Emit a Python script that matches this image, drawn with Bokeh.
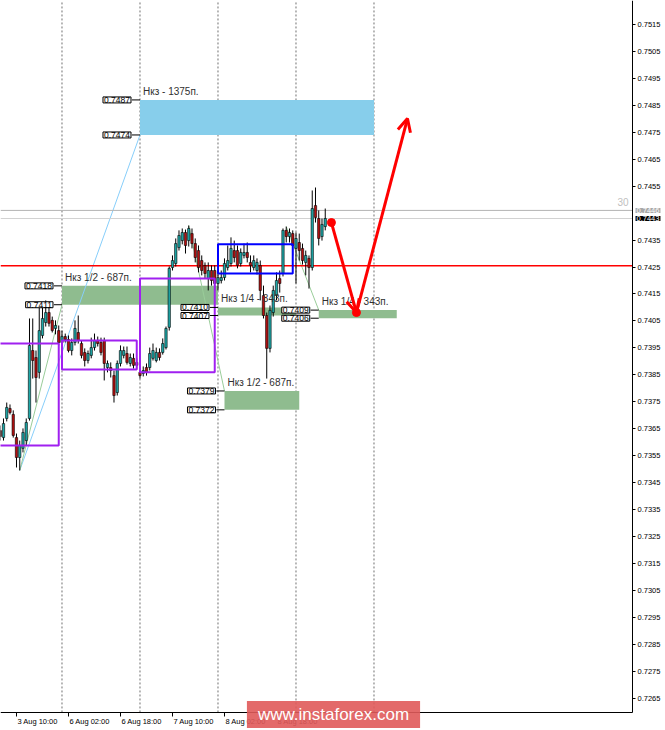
from bokeh.plotting import figure
from bokeh.models import (ColumnDataSource, FixedTicker, Range1d, Label, Arrow,
                          OpenHead, PrintfTickFormatter, LinearAxis)
from bokeh.embed import file_html
from bokeh.resources import INLINE

# ---------------- data ----------------
# bar index = hours from 6 Aug 00:00 (weekend skipped), H1 bars
hours = list(range(-19, 82))
opens = [0.73643, 0.73617, 0.73688, 0.73725, 0.73703, 0.73617, 0.73543, 0.73577, 0.73606, 0.73688,
         0.73940, 0.73914, 0.73859, 0.73996, 0.74044, 0.74081, 0.74052, 0.74022, 0.74014,
         0.73970, 0.73992, 0.73981, 0.73940, 0.73970, 0.74007, 0.73966, 0.73933, 0.73903, 0.73922,
         0.73951, 0.73977, 0.73970, 0.73977, 0.73877, 0.73877, 0.73847, 0.73784, 0.73892, 0.73922,
         0.73929, 0.73892, 0.73911, 0.73896,
         0.73859, 0.73855, 0.73877, 0.73877, 0.73911, 0.73903, 0.73933, 0.73933, 0.73951, 0.74026,
         0.74248, 0.74263, 0.74322, 0.74348, 0.74378, 0.74348, 0.74374, 0.74337, 0.74311, 0.74274,
         0.74256, 0.74207, 0.74237, 0.74237,
         0.74189, 0.74200, 0.74211, 0.74248, 0.74263, 0.74311, 0.74311, 0.74263, 0.74293, 0.74304,
         0.74267, 0.74248, 0.74237, 0.74256, 0.74144, 0.74070, 0.73948, 0.74081, 0.74144, 0.74207,
         0.74226, 0.74386, 0.74363, 0.74374,
         0.74319, 0.74341, 0.74319, 0.74267, 0.74282, 0.74248, 0.74478, 0.74430, 0.74363, 0.74400]
highs = [0.73662, 0.73688, 0.73747, 0.73740, 0.73718, 0.73632, 0.73606, 0.73651, 0.73688, 0.74059,
         0.74059, 0.73940, 0.74100, 0.74100, 0.74126, 0.74107, 0.74066, 0.74052, 0.74033,
         0.74014, 0.74003, 0.73996, 0.73985, 0.74052, 0.74070, 0.73977, 0.73948, 0.73940, 0.73988,
         0.74003, 0.73992, 0.73988, 0.73988, 0.73903, 0.73896, 0.73866, 0.73903, 0.73959, 0.73955,
         0.73955, 0.73929, 0.73929, 0.73911,
         0.73873, 0.73881, 0.73892, 0.73951, 0.73966, 0.73951, 0.73948, 0.73985, 0.74029, 0.74252,
         0.74293, 0.74356, 0.74386, 0.74393, 0.74389, 0.74404, 0.74393, 0.74356, 0.74330, 0.74293,
         0.74267, 0.74267, 0.74256, 0.74256,
         0.74230, 0.74237, 0.74282, 0.74330, 0.74360, 0.74348, 0.74330, 0.74319, 0.74337, 0.74341,
         0.74293, 0.74293, 0.74282, 0.74274, 0.74181, 0.74081, 0.74107, 0.74181, 0.74230, 0.74237,
         0.74393, 0.74400, 0.74393, 0.74386,
         0.74378, 0.74374, 0.74337, 0.74311, 0.74293, 0.74534, 0.74545, 0.74460, 0.74430, 0.74467]
lows = [0.73606, 0.73606, 0.73677, 0.73703, 0.73617, 0.73506, 0.73495, 0.73562, 0.73588, 0.73680,
        0.73836, 0.73747, 0.73836, 0.73985, 0.74029, 0.74029, 0.74007, 0.74000, 0.73959,
        0.73955, 0.73970, 0.73933, 0.73922, 0.73959, 0.73966, 0.73911, 0.73881, 0.73892, 0.73911,
        0.73940, 0.73955, 0.73922, 0.73829, 0.73859, 0.73840, 0.73747, 0.73773, 0.73881, 0.73911,
        0.73888, 0.73881, 0.73873, 0.73873,
        0.73836, 0.73844, 0.73847, 0.73866, 0.73903, 0.73896, 0.73903, 0.73925, 0.73944, 0.74014,
        0.74237, 0.74252, 0.74311, 0.74334, 0.74300, 0.74326, 0.74319, 0.74267, 0.74230, 0.74219,
        0.74207, 0.74163, 0.74181, 0.74163,
        0.74163, 0.74189, 0.74200, 0.74237, 0.74252, 0.74267, 0.74245, 0.74252, 0.74282, 0.74267,
        0.74230, 0.74237, 0.74222, 0.74126, 0.74059, 0.73836, 0.73933, 0.74066, 0.74126, 0.74155,
        0.74215, 0.74341, 0.74341, 0.74293,
        0.74189, 0.74274, 0.74259, 0.74219, 0.74170, 0.74237, 0.74415, 0.74330, 0.74348, 0.74386]
closes = [0.73621, 0.73669, 0.73729, 0.73710, 0.73625, 0.73543, 0.73588, 0.73636, 0.73673, 0.73959,
          0.73903, 0.73840, 0.74014, 0.74059, 0.74081, 0.74041, 0.74014, 0.74033, 0.73970,
          0.73992, 0.73981, 0.73940, 0.73970, 0.74022, 0.73977, 0.73922, 0.73903, 0.73929, 0.73951,
          0.73977, 0.73966, 0.73933, 0.73892, 0.73892, 0.73866, 0.73773, 0.73892, 0.73940, 0.73940,
          0.73896, 0.73914, 0.73885, 0.73885,
          0.73847, 0.73866, 0.73859, 0.73929, 0.73940, 0.73933, 0.73914, 0.73966, 0.74022, 0.74245,
          0.74274, 0.74337, 0.74367, 0.74378, 0.74330, 0.74393, 0.74337, 0.74285, 0.74248, 0.74237,
          0.74226, 0.74237, 0.74200, 0.74189,
          0.74211, 0.74211, 0.74263, 0.74274, 0.74319, 0.74285, 0.74256, 0.74304, 0.74304, 0.74285,
          0.74256, 0.74274, 0.74267, 0.74163, 0.74070, 0.73948, 0.74089, 0.74163, 0.74200, 0.74189,
          0.74386, 0.74363, 0.74378, 0.74330,
          0.74356, 0.74311, 0.74274, 0.74293, 0.74248, 0.74467, 0.74434, 0.74356, 0.74408, 0.74430]

# x-axis time labels
time_ticks = [-14, 2, 18, 34, 50, 66]
time_labels = ["3 Aug 10:00", "6 Aug 02:00", "6 Aug 18:00",
               "7 Aug 10:00", "8 Aug 02:00", "8 Aug 18:00"]
day_separators = [0, 24, 48, 72, 96]
price_ticks = [0.7265, 0.7275, 0.7285, 0.7295, 0.7305, 0.7315, 0.7325, 0.7335, 0.7345,
               0.7355, 0.7365, 0.7375, 0.7385, 0.7395, 0.7405, 0.7415, 0.7425, 0.7435,
               0.7455, 0.7465, 0.7475, 0.7485, 0.7495, 0.7505, 0.7515]

# target zones
zone_start = [24, 0, 48, 50, 79]
zone_end = [96, 48, 72, 73, 103]
zone_low = [0.7474, 0.7411, 0.7407, 0.7372, 0.7406]
zone_high = [0.7487, 0.7418, 0.7410, 0.7379, 0.7409]
zone_text = ["Нкз - 1375п.", "Нкз 1/2 - 687п.", "Нкз 1/4 - 343п.", "Нкз 1/2 - 687п.", "Нкз 1/4 - 343п."]
zone_color = ["#87CEEB", "#8FBC8F", "#8FBC8F", "#8FBC8F", "#8FBC8F"]

# range boxes
box_left = [-25, 0, 24, 48]
box_right = [-1, 23, 47, 71]
box_low = [0.73588, 0.73870, 0.73859, 0.74226]
box_high = [0.73966, 0.73977, 0.74207, 0.74334]
box_color = ["#A020F0", "#A020F0", "#A020F0", "#0000FF"]

# thin trend lines
tl_x0 = [-13, -13, 39, 69]
tl_y0 = [0.73495, 0.73495, 0.74404, 0.74400]
tl_x1 = [24, 0, 50, 79]
tl_y1 = [0.7474, 0.7411, 0.7379, 0.7409]
tl_color = ["#87CEFA", "#9ACD9A", "#9ACD9A", "#9ACD9A"]

support_level = 0.74255
ask_price = 0.7446
bid_price = 0.7443

# forecast path
path_h = [82.9, 90.6, 106.3]
path_p = [0.74415, 0.74081, 0.74801]

BULL = "#1EA8A8"
BEAR = "#B40F0F"
FONT = "Liberation Sans"

# chart window (data units) and where the axes sit inside it
X_LO, X_HI = -18.92, 185.69
Y_LO, Y_HI = 0.72530, 0.75239
AXIS_X = 175.54      # price scale line
AXIS_Y = 0.72597     # time scale line
LABEL_SHIFT = 6.5    # time labels start at their tick

# ---------------- figure ----------------
p = figure(frame_width=665, frame_height=730,
           x_range=Range1d(X_LO, X_HI), y_range=Range1d(Y_LO, Y_HI),
           x_axis_location=None, y_axis_location=None,
           output_backend="svg", toolbar_location=None, min_border=0)
p.background_fill_color = "white"
p.border_fill_color = "white"
p.outline_line_color = None
p.grid.visible = False

def style_axis(ax):
    ax.axis_line_color = "black"
    ax.major_tick_line_color = "black"
    ax.minor_tick_line_color = None
    ax.major_tick_in = 0
    ax.major_tick_out = 3
    ax.major_label_text_font = FONT
    ax.major_label_text_font_size = "7.5px"
    ax.major_label_text_color = "black"
    ax.major_label_standoff = 2

yaxis = LinearAxis(fixed_location=AXIS_X, bounds=(AXIS_Y, Y_HI),
                   ticker=FixedTicker(ticks=price_ticks),
                   formatter=PrintfTickFormatter(format="%.4f"))
style_axis(yaxis)
p.add_layout(yaxis, "right")

xaxis = LinearAxis(fixed_location=AXIS_Y, bounds=(X_LO, AXIS_X),
                   ticker=FixedTicker(ticks=time_ticks))
style_axis(xaxis)
xaxis.major_tick_out = 4
xaxis.major_label_text_alpha = 0
p.add_layout(xaxis, "below")

label_pos = [t + LABEL_SHIFT for t in time_ticks]
xlabels = LinearAxis(fixed_location=AXIS_Y, ticker=FixedTicker(ticks=label_pos),
                     major_label_overrides={lp: s for lp, s in zip(label_pos, time_labels)})
style_axis(xlabels)
xlabels.axis_line_color = None
xlabels.major_tick_line_color = None
xlabels.major_tick_out = 4
xlabels.major_label_standoff = 1
p.add_layout(xlabels, "below")

# day separators
p.segment(x0=day_separators, y0=[AXIS_Y] * len(day_separators),
          x1=day_separators, y1=[Y_HI] * len(day_separators),
          line_color="#707070", line_dash="2 2", line_width=1)

# zones
p.quad(left=zone_start, right=zone_end, bottom=zone_low, top=zone_high,
       fill_color=zone_color, line_color=None)

# trend lines
p.segment(x0=tl_x0, y0=tl_y0, x1=tl_x1, y1=tl_y1, line_color=tl_color, line_width=1)

# horizontal levels (up to the price scale)
p.segment(x0=[X_LO] * 3, x1=[AXIS_X] * 3, y0=[ask_price, bid_price, support_level],
          y1=[ask_price, bid_price, support_level],
          line_color=["#B4B4B4", "#D2D2D2", "#FF0000"], line_width=[1, 1, 1.5])

# candles
body_top = [max(o, c) for o, c in zip(opens, closes)]
body_bot = [min(o, c) for o, c in zip(opens, closes)]
cols = [BULL if c >= o else BEAR for o, c in zip(opens, closes)]
src = ColumnDataSource(dict(h=hours, hi=highs, lo=lows, t=body_top, b=body_bot, col=cols))
p.segment(x0="h", y0="lo", x1="h", y1="hi", source=src, line_color="black", line_width=1)
p.vbar(x="h", top="t", bottom="b", width=0.72, source=src, fill_color="col",
       line_color="black", line_width=0.6)

# range boxes
p.quad(left=box_left, right=box_right, bottom=box_low, top=box_high,
       fill_alpha=0, line_color=box_color, line_width=2)

# zone labels and price tags
for s, lo, hi, txt in zip(zone_start, zone_low, zone_high, zone_text):
    p.add_layout(Label(x=s, y=hi, text=txt, x_offset=3, y_offset=3, text_baseline="bottom",
                       text_font=FONT, text_font_size="10px", text_color="#303030"))
    for pr in (hi, lo):
        p.segment(x0=[s - 2.5], y0=[pr], x1=[s], y1=[pr], line_color="black", line_width=1)
        p.add_layout(Label(x=s, y=pr, text="%.4f" % pr, x_offset=-9, text_align="right",
                           text_baseline="middle", text_font=FONT, text_font_size="8.5px",
                           text_color="black", background_fill_color="white",
                           border_line_color="black", border_line_width=1, padding=(1, 0)))

# forecast arrows
p.add_layout(Arrow(x_start=path_h[0], y_start=path_p[0], x_end=path_h[1], y_end=path_p[1],
                   line_color="#FF0000", line_width=3,
                   end=OpenHead(size=13, line_color="#FF0000", line_width=3)))
p.add_layout(Arrow(x_start=path_h[1], y_start=path_p[1], x_end=path_h[2], y_end=path_p[2],
                   line_color="#FF0000", line_width=3,
                   end=OpenHead(size=13, line_color="#FF0000", line_width=3)))
p.scatter(x=path_h[:2], y=path_p[:2], size=8, color="#FF0000")

# price tags on the scale
p.add_layout(Label(x=AXIS_X, y=ask_price, x_offset=3, text="%.4f" % ask_price,
                   text_baseline="middle", text_font=FONT, text_font_size="7.5px",
                   text_color="white", background_fill_color="#A8A8A8", padding=(1, 0)))
p.add_layout(Label(x=AXIS_X, y=bid_price, x_offset=3, text="%.4f" % bid_price,
                   text_baseline="middle", text_font=FONT, text_font_size="7.5px",
                   text_color="white", background_fill_color="black", padding=(1, 0)))
p.add_layout(Label(x=AXIS_X, y=0.7449, x_offset=-4, text="30", text_align="right",
                   text_baseline="middle", text_font=FONT, text_font_size="10px",
                   text_color="#C0C0C0"))

# watermark
p.add_layout(Label(x=333, y=16, x_units="screen", y_units="screen", text="www.instaforex.com",
                   text_align="center", text_baseline="middle", text_font=FONT,
                   text_font_size="17px", text_color="white",
                   background_fill_color="#E05A5A", background_fill_alpha=0.9, padding=(11, 4)))

open("out.html", "w").write(file_html(p, INLINE))
